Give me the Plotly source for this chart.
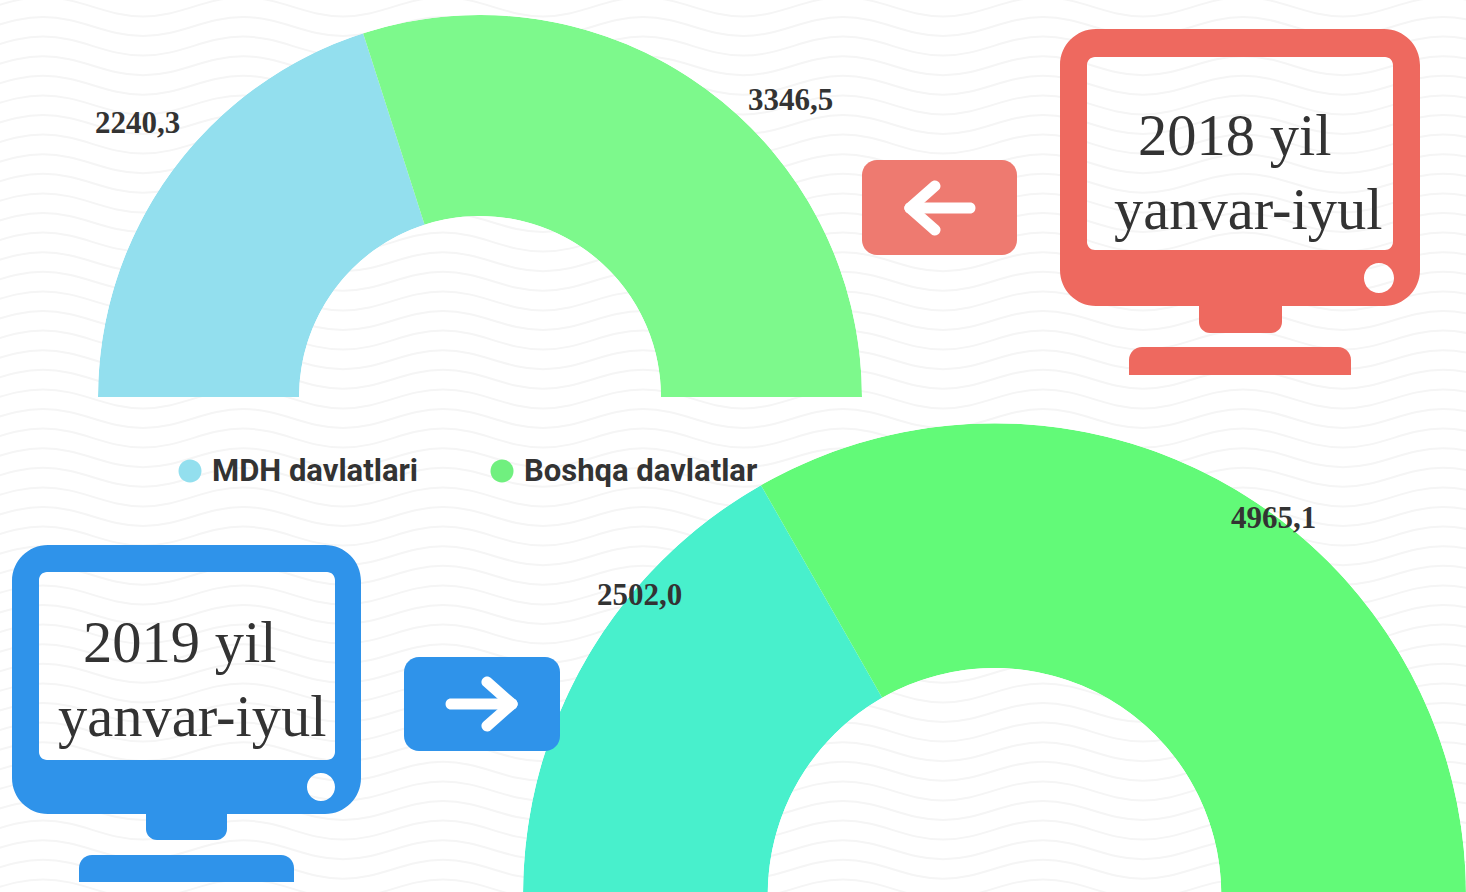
import plotly.graph_objects as go

W, H = 1466, 895   # 3 px of the lower donut's centre line fall below the window

categories = ["MDH davlatlari", "Boshqa davlatlar"]
values_2018 = [2240.3, 3346.5]
values_2019 = [2502.0, 4965.1]
colors_2018 = ["#93DFEE", "#7DF98C"]
colors_2019 = ["#48F0CC", "#62FA78"]
period_2018 = ["2018 yil", "yanvar-iyul"]
period_2019 = ["2019 yil", "yanvar-iyul"]

RED, RED_BOX, BLUE = "#EE695F", "#EE7A70", "#2F93EA"
INK = "#333333"
K = 0.5523


def fx(x):
    return round(x / W, 5)


def fy(y):
    return round(1 - y / H, 5)


def pt(x, y):
    return f"{fx(x)},{fy(y)}"


def rrect(x0, y0, x1, y1, tl, tr=None, br=None, bl=None):
    tr = tl if tr is None else tr
    br = tl if br is None else br
    bl = tl if bl is None else bl
    def corner(ax, ay, c1x, c1y, c2x, c2y, bx, by):
        return f"C{pt(c1x, c1y)} {pt(c2x, c2y)} {pt(bx, by)}"
    return " ".join([
        f"M{pt(x0 + tl, y0)}", f"L{pt(x1 - tr, y0)}",
        corner(0, 0, x1 - tr * (1 - K), y0, x1, y0 + tr * (1 - K), x1, y0 + tr),
        f"L{pt(x1, y1 - br)}",
        corner(0, 0, x1, y1 - br * (1 - K), x1 - br * (1 - K), y1, x1 - br, y1),
        f"L{pt(x0 + bl, y1)}",
        corner(0, 0, x0 + bl * (1 - K), y1, x0, y1 - bl * (1 - K), x0, y1 - bl),
        f"L{pt(x0, y0 + tl)}",
        corner(0, 0, x0, y0 + tl * (1 - K), x0 + tl * (1 - K), y0, x0 + tl, y0),
        "Z",
    ])


def circle(cx, cy, r):
    return rrect(cx - r, cy - r, cx + r, cy + r, r)


def capsule(x0, y0, x1, y1, w):
    dx, dy = x1 - x0, y1 - y0
    n = (dx * dx + dy * dy) ** 0.5
    ux, uy = dx / n, dy / n
    px, py = -uy * w / 2, ux * w / 2
    ex, ey = ux * w * 0.66, uy * w * 0.66
    return " ".join([
        f"M{pt(x0 + px, y0 + py)}", f"L{pt(x1 + px, y1 + py)}",
        f"C{pt(x1 + px + ex, y1 + py + ey)} {pt(x1 - px + ex, y1 - py + ey)} {pt(x1 - px, y1 - py)}",
        f"L{pt(x0 - px, y0 - py)}",
        f"C{pt(x0 - px - ex, y0 - py - ey)} {pt(x0 + px - ex, y0 + py - ey)} {pt(x0 + px, y0 + py)}",
        "Z",
    ])


def fill_shape(path, color, rule="nonzero", layer="above"):
    return dict(type="path", path=path, xref="paper", yref="paper", fillcolor=color,
                line=dict(width=0), fillrule=rule, layer=layer)


def wave_path():
    parts = []
    step, amp, half = 19.6, 9.5, 100
    y = -12.7
    while y < H + 20:
        x = -157
        parts.append(f"M{pt(x, y - amp)}")
        up = True
        while x < W + 100:
            a, b = (y - amp, y + amp) if up else (y + amp, y - amp)
            parts.append(f"C{pt(x + 38, a)} {pt(x + 62, b)} {pt(x + half, b)}")
            x += half
            up = not up
        y += step
    return " ".join(parts)


def monitor(x0, y0, x1, y1, ix0, iy0, ix1, iy1, cx, cy, cr, sx0, sx1, sy1, bx0, bx1, by0, by1, color):
    body = rrect(x0, y0, x1, y1, 36) + " " + rrect(ix0, iy0, ix1, iy1, 8) + " " + circle(cx, cy, cr)
    return [
        fill_shape(body, color, "evenodd"),
        fill_shape(rrect(sx0, y1 - 2, sx1, sy1, 0, 0, 11, 11), color),
        fill_shape(rrect(bx0, by0, bx1, by1, 13, 13, 0, 0), color),
    ]


def half_donut(values):
    total = sum(values)
    widths = [180 * v / total for v in values]
    centers = [sum(widths[:i]) + widths[i] / 2 for i in range(len(values))]
    return widths, centers


fig = go.Figure()

for vals, cols, pid in [(values_2018, colors_2018, "polar"), (values_2019, colors_2019, "polar2")]:
    widths, centers = half_donut(vals)
    fig.add_trace(go.Barpolar(
        r=[1] * len(vals), theta=centers, width=widths, base=0,
        marker=dict(color=cols, line=dict(width=0)),
        text=categories, customdata=vals, hovertemplate="%{text}: %{customdata}<extra></extra>",
        subplot=pid, showlegend=False,
    ))


def polar_layout(x0, x1, ytop, ybot, hole):
    return dict(
        domain=dict(x=[x0 / W, min(x1 / W, 1)], y=[1 - ybot / H, 1 - ytop / H]),
        sector=[0, 180], hole=hole, bgcolor="rgba(0,0,0,0)",
        radialaxis=dict(visible=False, range=[0, 1]),
        angularaxis=dict(visible=False, direction="clockwise", rotation=180),
        bargap=0,
    )


shapes = [dict(type="path", path=wave_path(), xref="paper", yref="paper",
               line=dict(color="#F5F5F5", width=2), layer="below")]

shapes += monitor(1060, 29, 1420, 306, 1087, 57, 1393, 250, 1379, 278, 15,
                  1199, 1282, 333, 1129, 1351, 347, 375, RED)
shapes += monitor(12, 545, 361, 814, 39, 572, 335, 760, 321, 787, 14,
                  146, 227, 840, 79, 294, 855, 882, BLUE)

shapes.append(fill_shape(rrect(862, 160, 1017, 255, 15), RED_BOX))
shapes.append(fill_shape(rrect(404, 657, 560, 751, 15), BLUE))

for a, b in [((970, 208), (910, 208)), ((910, 208), (935, 186)), ((910, 208), (935, 230))]:
    shapes.append(fill_shape(capsule(*a, *b, 11), "#FFFFFF"))
for a, b in [((451, 704), (512, 704)), ((512, 704), (487, 682)), ((512, 704), (487, 726))]:
    shapes.append(fill_shape(capsule(*a, *b, 11), "#FFFFFF"))

shapes.append(fill_shape(circle(190, 471, 11.5), colors_2018[0]))
shapes.append(fill_shape(circle(502, 471, 11.5), "#70F07F"))


def note(text, x, y, size, family="Liberation Serif", anchor="center", **font_extra):
    return dict(text=text, x=fx(x), y=fy(y), xref="paper", yref="paper", showarrow=False,
                xanchor=anchor, yanchor="middle",
                font=dict(family=family, size=size, color=INK, **font_extra))


def num(v):
    return f"<b>{v:.1f}</b>".replace(".", ",")


annotations = [
    note(num(values_2018[0]), 138, 123, 31),
    note(num(values_2018[1]), 791, 100, 31),
    note(num(values_2019[0]), 640, 595, 31),
    note(num(values_2019[1]), 1273, 518, 31),
    note(period_2018[0], 1234, 135, 58.5),
    note(period_2018[1], 1248, 209, 58.5),
    note(period_2019[0], 180, 642, 58.5),
    note(period_2019[1], 192, 716, 58.5),
    note(categories[0], 210, 470, 31, "Roboto", "left", weight=700),
    note(categories[1], 522, 470, 31, "Roboto", "left", weight=700),
]

fig.update_layout(
    width=W, height=H, autosize=False,
    margin=dict(l=0, r=0, t=0, b=0),
    paper_bgcolor="#FFFFFF", plot_bgcolor="#FFFFFF",
    polar=polar_layout(98, 862, 15, 397, 181 / 382),
    polar2=polar_layout(523, 1467, 423, 895, 227 / 472),
    shapes=shapes, annotations=annotations, showlegend=False,
)

fig.write_html(
    "out.html",
    config=dict(displayModeBar=False),
    post_script="document.body.style.margin='0';document.documentElement.style.overflow='hidden';document.body.style.overflow='hidden';",
)
